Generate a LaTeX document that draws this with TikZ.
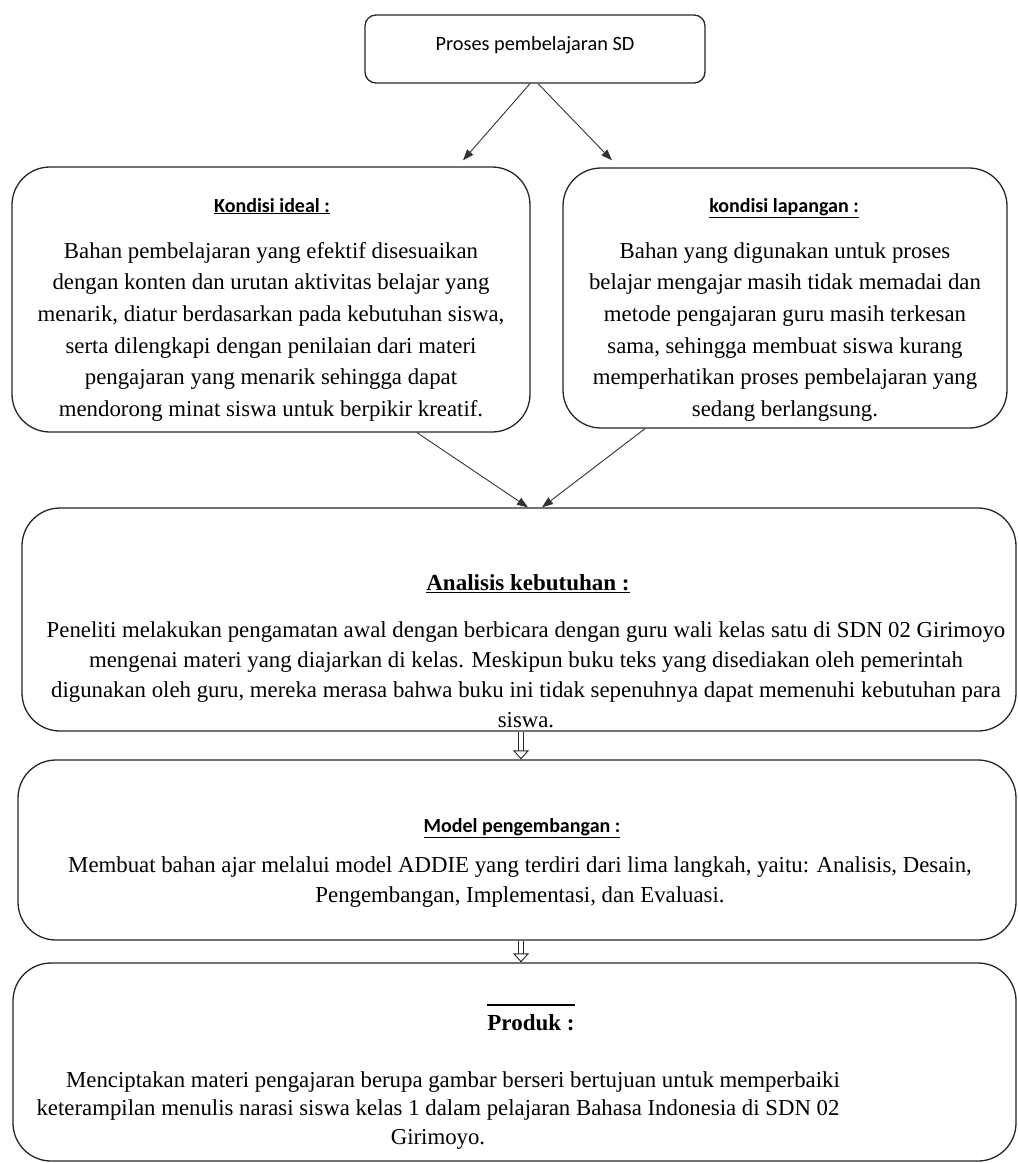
\documentclass[tikz,border=0pt]{standalone}
\usepackage{fontspec}
\setmainfont{Liberation Serif}
\newfontfamily\calibri{Carlito}
\usetikzlibrary{positioning}
\usetikzlibrary{calc}
\usetikzlibrary{arrows.meta}
\tikzset{
  panel/.style      = { rectangle, draw=black!85, line width=1.3pt, rounded corners=38pt },
  smallpanel/.style = { panel, rounded corners=11pt },
  sanshead/.style   = { font=\calibri\bfseries\fontsize{20}{24}\selectfont, inner sep=0pt, anchor=base },
  serifhead/.style  = { font=\bfseries\fontsize{23}{28}\selectfont, inner sep=0pt, anchor=base },
  bodytext/.style   = { font=\fontsize{22.8}{31.7}\selectfont, align=center, inner sep=0pt, anchor=base },
  flow/.style       = { draw=black!80, line width=0.9pt, -{Triangle[length=11pt,width=8pt]} },
  hollow/.style     = { draw=black!85, double, double distance=4pt, line width=0.9pt,
                        -{Triangle[open,length=9pt,width=16pt]} }
}
\begin{document}
\begin{tikzpicture}[x=1pt, y=-1pt]
  \useasboundingbox (0,0) rectangle (1018,1163);

  % boxes
  \node (proses)    [smallpanel, minimum width=340pt, minimum height=68pt]  at (535,49)    {};
  \node (ideal)     [panel, minimum width=518pt, minimum height=265pt]       at (271,299.5) {};
  \node (lapangan)  [panel, minimum width=444pt, minimum height=260pt]       at (785,298)   {};
  \node (analisis)  [panel, minimum width=994pt, minimum height=223pt]       at (519,619.5) {};
  \node (model)     [panel, minimum width=998pt, minimum height=180pt]       at (517,850)   {};
  \node (produk)    [panel, minimum width=1003pt, minimum height=198pt]      at (514.5,1062) {};
  \coordinate (midx) at (521,0);

  % texts (multi-line nodes sit on their last baseline)
  \node (prosestext) [font=\calibri\fontsize{20.3}{24}\selectfont, inner sep=0pt, anchor=base]
        at (535,50) {Proses pembelajaran SD};

  \node (idealhead) [sanshead] at (272,212) {\underline{Kondisi ideal :}};
  \node (idealbody) [bodytext] at (271,416.5) {Bahan pembelajaran yang efektif disesuaikan\\
    dengan konten dan urutan aktivitas belajar yang\\
    menarik, diatur berdasarkan pada kebutuhan siswa,\\
    serta dilengkapi dengan penilaian dari materi\\
    pengajaran yang menarik sehingga dapat\\
    mendorong minat siswa untuk berpikir kreatif.};

  \node (lapanganhead) [sanshead] at (784,212) {\underline{kondisi lapangan :}};
  \node (lapanganbody) [bodytext] at (785,416.5) {Bahan yang digunakan untuk proses\\
    belajar mengajar masih tidak memadai dan\\
    metode pengajaran guru masih terkesan\\
    sama, sehingga membuat siswa kurang\\
    memperhatikan proses pembelajaran yang\\
    sedang berlangsung.};

  \node (analisishead) [serifhead] at (528,590) {\underline{Analisis kebutuhan :}};
  \node (analisisbody) [bodytext, font=\fontsize{22.8}{30}\selectfont] at (526,727)
    {Peneliti melakukan pengamatan awal dengan berbicara dengan guru wali kelas satu di SDN 02 Girimoyo\\
    mengenai materi yang diajarkan di kelas. Meskipun buku teks yang disediakan oleh pemerintah\\
    digunakan oleh guru, mereka merasa bahwa buku ini tidak sepenuhnya dapat memenuhi kebutuhan para\\
    siswa.};

  \node (modelhead) [sanshead] at (522,832) {\underline{Model pengembangan :}};
  \node (modelbody) [bodytext, font=\fontsize{22.8}{30}\selectfont] at (520,902)
    {Membuat bahan ajar melalui model ADDIE yang terdiri dari lima langkah, yaitu: Analisis, Desain,\\
    Pengembangan, Implementasi, dan Evaluasi.};

  \node (produkhead) [serifhead] at (531,1030) {Produk :};
  \node (produkbody) [bodytext, font=\fontsize{22.8}{28.5}\selectfont] at (438,1144)
    {\hspace*{30pt}Menciptakan materi pengajaran berupa gambar berseri bertujuan untuk memperbaiki\\
    keterampilan menulis narasi siswa kelas 1 dalam pelajaran Bahasa Indonesia di SDN 02\\
    Girimoyo.};
  \draw [line width=1.6pt] ([yshift=9pt]produkhead.north west) -- ([yshift=9pt]produkhead.north east);

  % connectors
  \draw [flow] ([xshift=-5pt]proses.south) -- ([xshift=192pt,yshift=6pt]ideal.north);
  \draw [flow] ([xshift=3pt]proses.south)  -- ([xshift=-173pt,yshift=7pt]lapangan.north);
  \draw [flow] ([xshift=146pt]ideal.south)     -- ([xshift=9pt]analisis.north);
  \draw [flow] ([xshift=-140pt]lapangan.south) -- ([xshift=23pt]analisis.north);
  \draw [hollow] (analisis.south -| midx) -- (model.north -| midx);
  \draw [hollow] (model.south -| midx)    -- (produk.north -| midx);
\end{tikzpicture}
\end{document}
